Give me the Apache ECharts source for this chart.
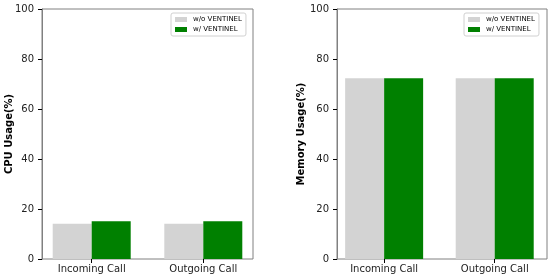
<!DOCTYPE html>
<html>
<head>
<meta charset="utf-8">
<script src="https://cdn.jsdelivr.net/npm/echarts@6/dist/echarts.min.js"></script>
<style>html,body{margin:0;padding:0;background:#fff}#c{width:550px;height:278px}</style>
</head>
<body>
<div id="c"></div>
<script>
const categories = ['Incoming Call', 'Outgoing Call'];
const seriesNames = ['w/o VENTINEL', 'w/ VENTINEL'];
const cpuWithout = [14.1, 14.1];
const cpuWith = [15.1, 15.1];
const memWithout = [72.3, 72.3];
const memWith = [72.3, 72.3];
const yTicks = [0, 20, 40, 60, 80, 100];
const yLabels = ['CPU Usage(%)', 'Memory Usage(%)'];

const FONT = 'DejaVu Sans';
const chart = echarts.init(document.getElementById('c'), null, {renderer: 'canvas'});

const frames = [{left: 42, width: 211}, {left: 337, width: 210}];
const bands = [{left: 35.9, width: 223.2}, {left: 328.85, width: 224.6}];
const nameCenters = [10, 302];
const gridTop = 9, gridHeight = 250;

const grids = [], xAxes = [], yAxes = [];
for (let p = 0; p < 2; p++) {
  grids.push({left: frames[p].left, width: frames[p].width, top: gridTop, height: gridHeight, show: true, borderColor: '#808080', borderWidth: 1, backgroundColor: 'transparent'});
  grids.push({left: bands[p].left, width: bands[p].width, top: gridTop, height: gridHeight, show: false});
  xAxes.push({gridIndex: 2*p, type: 'category', data: categories, show: false});
  xAxes.push({gridIndex: 2*p+1, type: 'category', data: categories,
    axisLine: {show: true, lineStyle: {color: '#808080', opacity: 0}},
    axisTick: {show: true, inside: false, alignWithLabel: true, length: 4, lineStyle: {color: '#000', opacity: 1, width: 1}},
    axisLabel: {fontFamily: FONT, fontSize: 10, color: '#222', margin: 5}});
  yAxes.push({gridIndex: 2*p, type: 'value', min: yTicks[0], max: yTicks[yTicks.length-1], interval: yTicks[1]-yTicks[0],
    axisLine: {show: true, lineStyle: {color: '#808080'}}, splitLine: {show: false},
    axisTick: {show: true, inside: false, length: 4, lineStyle: {color: '#000', width: 1}},
    axisLabel: {fontFamily: FONT, fontSize: 10, color: '#222', margin: 8}});
  yAxes.push({gridIndex: 2*p+1, type: 'value', min: yTicks[0], max: yTicks[yTicks.length-1], show: true,
    name: yLabels[p], nameLocation: 'middle', nameGap: bands[p].left - nameCenters[p] - 4.5,
    nameTextStyle: {fontFamily: FONT, fontSize: 10, fontWeight: 'bold', color: '#000'},
    axisLine: {show: false}, axisTick: {show: false}, axisLabel: {show: false}, splitLine: {show: false}});
}

const colors = ['#d3d3d3', '#008000'];
const panelData = [[cpuWithout, cpuWith], [memWithout, memWith]];
const series = [];
for (let p = 0; p < 2; p++) {
  for (let s = 0; s < 2; s++) {
    series.push({type: 'bar', name: seriesNames[s], xAxisIndex: 2*p+1, yAxisIndex: 2*p+1,
      data: panelData[p][s], barWidth: 39, barGap: '0%', itemStyle: {color: colors[s]}, silent: true});
  }
}

const legendBase = {orient: 'vertical', top: 13, itemWidth: 12, itemHeight: 5, itemGap: 3,
  padding: [3, 4, 3, 4], backgroundColor: '#fff', borderColor: '#d0d0d0', borderWidth: 1, borderRadius: 2,
  icon: 'rect', data: seriesNames,
  textStyle: {fontFamily: FONT, fontSize: 7, color: '#000', padding: [0, 0, 0, 1]}};

chart.setOption({
  animation: false,
  color: colors,
  grid: grids,
  xAxis: xAxes,
  yAxis: yAxes,
  legend: [Object.assign({left: 171}, legendBase), Object.assign({left: 464}, legendBase)],
  series: series
});
</script>
</body>
</html>
